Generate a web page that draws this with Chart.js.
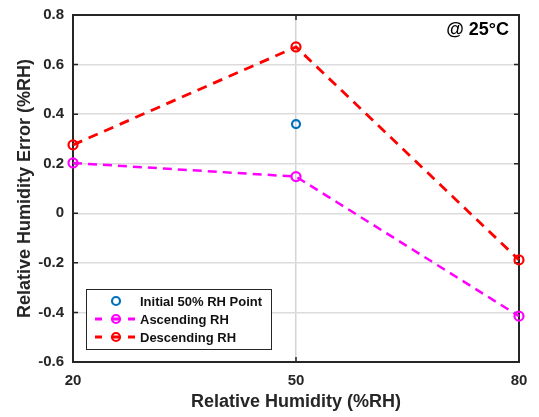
<!DOCTYPE html>
<html>
<head>
<meta charset="utf-8">
<script src="https://cdn.jsdelivr.net/npm/chart.js@4"></script>
<style>
  html, body { margin: 0; padding: 0; background: #fff; }
  #wrap { width: 539px; height: 417px; }
</style>
</head>
<body>
<div id="wrap"><canvas id="rhChart" width="539" height="417"></canvas></div>
<script>
// Relative humidity error vs RH at 25°C
const rhLevels = [20, 50, 80]
const xTicks = [20, 50, 80]
const initialPoint = [{ x: 50, y: 0.36 }]
const ascendingErr = [0.203, 0.148, -0.415]
const descendingErr = [0.276, 0.671, -0.188]
const seriesNames = ['Initial 50% RH Point', 'Ascending RH', 'Descending RH']
const annotation = '@ 25°C'

const FONT = "'Liberation Sans', Arial, sans-serif"
const AXIS = '#262626'

const toPts = vals => vals.map((v, i) => ({ x: rhLevels[i], y: v }))

// box and inward ticks go under the data, legend and note on top
const framePlugin = {
  id: 'frame',
  beforeDatasetsDraw(chart) {
    const { ctx, chartArea: a, scales } = chart
    ctx.save()
    ctx.strokeStyle = AXIS
    ctx.lineWidth = 2
    ctx.strokeRect(a.left, a.top, a.right - a.left, a.bottom - a.top)
    ctx.lineWidth = 1.5
    scales.y.ticks.forEach(t => {
      const y = scales.y.getPixelForValue(t.value)
      ctx.beginPath()
      ctx.moveTo(a.left, y); ctx.lineTo(a.left + 5, y)
      ctx.moveTo(a.right, y); ctx.lineTo(a.right - 5, y)
      ctx.stroke()
    })
    scales.x.ticks.forEach(t => {
      const x = scales.x.getPixelForValue(t.value)
      ctx.beginPath()
      ctx.moveTo(x, a.bottom); ctx.lineTo(x, a.bottom - 5)
      ctx.moveTo(x, a.top); ctx.lineTo(x, a.top + 5)
      ctx.stroke()
    })
    ctx.restore()
  },
  afterDraw(chart) {
    const { ctx, chartArea: a } = chart
    ctx.save()
    // note
    ctx.fillStyle = '#000'
    ctx.font = 'bold 18px ' + FONT
    ctx.textAlign = 'right'
    ctx.textBaseline = 'middle'
    ctx.fillText(annotation, a.right - 10, 30)

    // legend
    const lx = 86, ly = 289, lw = 185, lh = 60
    ctx.fillStyle = '#fff'
    ctx.fillRect(lx, ly, lw, lh)
    ctx.strokeStyle = '#262626'
    ctx.lineWidth = 1
    ctx.strokeRect(lx + 0.5, ly + 0.5, lw, lh)
    chart.data.datasets.forEach((ds, i) => {
      const cy = ly + 12 + i * 18
      const cx = lx + 30
      if (ds.showLine) {
        ctx.strokeStyle = ds.borderColor
        ctx.lineWidth = 2.8
        ctx.beginPath()
        ctx.moveTo(lx + 9, cy); ctx.lineTo(lx + 16, cy)
        ctx.moveTo(lx + 27, cy); ctx.lineTo(lx + 33, cy)
        ctx.moveTo(lx + 42, cy); ctx.lineTo(lx + 49, cy)
        ctx.stroke()
      }
      ctx.strokeStyle = ds.pointBorderColor
      ctx.lineWidth = 2.2
      ctx.beginPath()
      ctx.arc(cx, cy, 4, 0, Math.PI * 2)
      ctx.stroke()
      ctx.fillStyle = '#111'
      ctx.font = 'bold 13px ' + FONT
      ctx.textAlign = 'left'
      ctx.textBaseline = 'middle'
      ctx.fillText(ds.label, lx + 54, cy + 1)
    })
    ctx.restore()
  }
}

const ctx = document.getElementById('rhChart').getContext('2d')
// eslint-disable-next-line no-undef
new Chart(ctx, {
  type: 'scatter',
  data: {
    datasets: [
      {
        label: seriesNames[0],
        data: initialPoint,
        showLine: false,
        clip: false,
        borderColor: '#0072bd',
        pointBorderColor: '#0072bd',
        pointBackgroundColor: 'rgba(255,255,255,0)',
        pointRadius: 4,
        pointBorderWidth: 2.2,
        order: 0
      },
      {
        label: seriesNames[1],
        data: toPts(ascendingErr),
        showLine: true,
        clip: false,
        borderColor: '#ff00ff',
        borderWidth: 2.5,
        borderDash: [9, 6],
        pointBorderColor: '#ff00ff',
        pointBackgroundColor: 'rgba(255,255,255,0)',
        pointRadius: 4.5,
        pointBorderWidth: 2.2,
        order: 2
      },
      {
        label: seriesNames[2],
        data: toPts(descendingErr),
        showLine: true,
        clip: false,
        borderColor: '#ff0000',
        borderWidth: 2.8,
        borderDash: [10, 7],
        pointBorderColor: '#ff0000',
        pointBackgroundColor: 'rgba(255,255,255,0)',
        pointRadius: 4.5,
        pointBorderWidth: 2.2,
        order: 1
      }
    ]
  },
  options: {
    responsive: false,
    animation: false,
    layout: { padding: { top: 15, right: 20, left: 0, bottom: 0 } },
    plugins: {
      legend: { display: false },
      tooltip: { enabled: false }
    },
    scales: {
      x: {
        type: 'linear',
        min: 20,
        max: 80,
        afterBuildTicks: axis => { axis.ticks = xTicks.map(v => ({ value: v })) },
        afterFit: axis => { axis.height = 55; axis.paddingLeft = 0; axis.paddingRight = 0 },
        grid: { color: '#d4d4d4', lineWidth: 1.5, drawTicks: false },
        border: { display: false },
        ticks: { color: '#262626', font: { family: FONT, size: 15, weight: 'bold' }, padding: 10 },
        title: {
          display: true,
          text: 'Relative Humidity (%RH)',
          color: '#262626',
          font: { family: FONT, size: 18, weight: 'bold' },
          padding: { top: 4 }
        }
      },
      y: {
        min: -0.6,
        max: 0.8,
        afterBuildTicks: axis => {
          const t = []
          for (let k = -3; k <= 4; k++) t.push({ value: k * 0.2 })
          axis.ticks = t
        },
        afterFit: axis => { axis.width = 73; axis.paddingTop = 0; axis.paddingBottom = 0 },
        grid: { color: '#dcdcdc', lineWidth: 1.5, drawTicks: false },
        border: { display: false },
        ticks: {
          color: '#262626',
          font: { family: FONT, size: 15, weight: 'bold' },
          padding: 9,
          callback: v => {
            const r = Math.round(v * 10) / 10
            return r === 0 ? '0' : r.toFixed(1)
          }
        },
        title: {
          display: true,
          text: 'Relative Humidity Error (%RH)',
          color: '#262626',
          font: { family: FONT, size: 18, weight: 'bold' },
          padding: { top: 14, bottom: 0 }
        }
      }
    }
  },
  plugins: [framePlugin]
})
</script>
</body>
</html>
